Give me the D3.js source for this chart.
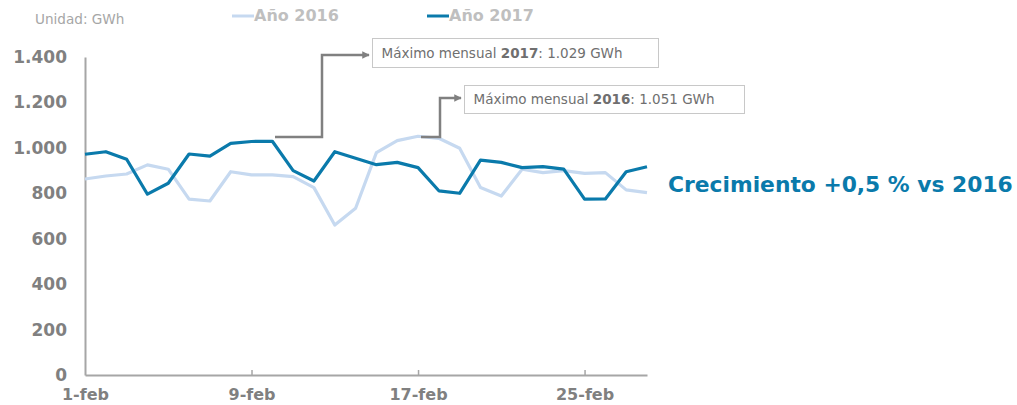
<!DOCTYPE html>
<html><head><meta charset="utf-8">
<script src="https://cdn.jsdelivr.net/npm/d3@7"></script>
<style>
html,body{margin:0;padding:0;background:#fff;}
svg{display:block;font-family:"DejaVu Sans",Verdana,sans-serif;}
</style></head>
<body>
<svg id="chart" width="1017" height="405"></svg>
<script>
const days = d3.range(1, 29);
const values2016 = [863,876,885,925,906,774,766,895,881,881,873,825,660,734,979,1032,1051,1042,998,825,788,906,891,900,888,891,815,803];
const values2017 = [972,983,950,796,844,973,964,1020,1028,1029,900,854,983,954,926,936,913,811,800,946,936,913,917,906,774,775,895,917];
const xTickDays = [1, 9, 17, 25];
const xTickLabels = ["1-feb", "9-feb", "17-feb", "25-feb"];
const yTicks = [0, 200, 400, 600, 800, 1000, 1200, 1400];
const seriesNames = ["Año 2016", "Año 2017"];
const annotations = [
  {year: "2017", value: "1.029 GWh", day: 10},
  {year: "2016", value: "1.051 GWh", day: 17}
];
const headline = "Crecimiento +0,5 % vs 2016";
const unitLabel = "Unidad: GWh";

const colLight = "#c6d9f0", colDark = "#0a7aab", gray = "#808080";
const svg = d3.select("#chart");
const x = d3.scaleLinear().domain([1, 28]).range([85, 647]);
const y = d3.scaleLinear().domain([0, 1400]).range([375, 57]);
const fmt = d3.formatLocale({decimal: ",", thousands: ".", grouping: [3], currency: ["", ""]}).format(",d");

// axes
const yAxis = svg.append("g").attr("transform", "translate(85,0)")
  .call(d3.axisLeft(y).tickValues(yTicks).tickFormat(fmt).tickSize(0).tickPadding(18));
yAxis.select(".domain").attr("stroke", "#a6a6a6").attr("stroke-width", 2);
yAxis.selectAll("text").attr("fill", gray).attr("font-size", 17).attr("font-weight", "bold")
  .attr("font-family", "DejaVu Sans, Verdana, sans-serif");

const xAxis = svg.append("g").attr("transform", "translate(0,375)")
  .call(d3.axisBottom(x).tickValues(xTickDays).tickFormat((d, i) => xTickLabels[i]).tickSizeInner(-5).tickSizeOuter(0).tickPadding(14));
xAxis.select(".domain").attr("stroke", "#a6a6a6").attr("stroke-width", 2);
xAxis.selectAll(".tick line").attr("stroke", "#a6a6a6").attr("stroke-width", 1.5);
xAxis.selectAll(".tick").filter(d => d === 1).select("line").remove();
xAxis.selectAll("text").attr("fill", gray).attr("font-size", 16).attr("font-weight", "bold")
  .attr("font-family", "DejaVu Sans, Verdana, sans-serif");

// lines
const line = d3.line().x((d, i) => x(days[i])).y(d => y(d));
svg.append("path").datum(values2016).attr("d", line).attr("fill", "none")
  .attr("stroke", colLight).attr("stroke-width", 3.2).attr("stroke-linejoin", "round");
svg.append("path").datum(values2017).attr("d", line).attr("fill", "none")
  .attr("stroke", colDark).attr("stroke-width", 3.2).attr("stroke-linejoin", "round");

// unit
svg.append("text").attr("x", 35).attr("y", 24).text(unitLabel)
  .attr("fill", "#a6a6a6").attr("font-size", 13.6);

// legend
const legend = [{name: seriesNames[0], c: colLight, x: 232}, {name: seriesNames[1], c: colDark, x: 427}];
legend.forEach(l => {
  svg.append("line").attr("x1", l.x).attr("x2", l.x + 22).attr("y1", 16).attr("y2", 16)
    .attr("stroke", l.c).attr("stroke-width", 3);
  svg.append("text").attr("x", l.x + 22).attr("y", 21).text(l.name)
    .attr("fill", "#bfbfbf").attr("font-size", 16).attr("font-weight", "bold");
});

// arrow marker
svg.append("defs").append("marker").attr("id", "arr").attr("viewBox", "0 0 10 10")
  .attr("refX", 9).attr("refY", 5).attr("markerWidth", 3).attr("markerHeight", 3)
  .attr("orient", "auto").attr("markerUnits", "strokeWidth")
  .append("path").attr("d", "M0,0L10,5L0,10z").attr("fill", gray);

// annotations
const boxes = [
  {bx: 372, by: 38, bw: 286, bh: 29, sx: 275, vx: 322, ty: 55, tip: 369},
  {bx: 464, by: 85, bw: 280, bh: 28, sx: 421, vx: 440, ty: 98, tip: 461}
];
annotations.forEach((a, i) => {
  const b = boxes[i];
  svg.append("path")
    .attr("d", `M${b.sx},137H${b.vx}V${b.ty}H${b.tip}`)
    .attr("fill", "none").attr("stroke", gray).attr("stroke-width", 2.5)
    .attr("marker-end", "url(#arr)");
  svg.append("rect").attr("x", b.bx + 0.5).attr("y", b.by + 0.5).attr("width", b.bw).attr("height", b.bh)
    .attr("fill", "#fff").attr("stroke", "#c8c8c8").attr("stroke-width", 1);
  const t = svg.append("text").attr("x", b.bx + 9.5).attr("y", b.by + b.bh / 2 + 5)
    .attr("fill", "#6f6f6f").attr("font-size", 13.5);
  t.append("tspan").text("Máximo mensual ");
  t.append("tspan").attr("font-weight", "bold").text(a.year);
  t.append("tspan").text(": " + a.value);
});

// headline
svg.append("text").attr("x", 668).attr("y", 192).text(headline)
  .attr("fill", colDark).attr("font-size", 21.8).attr("font-weight", "bold");
</script>
</body></html>
